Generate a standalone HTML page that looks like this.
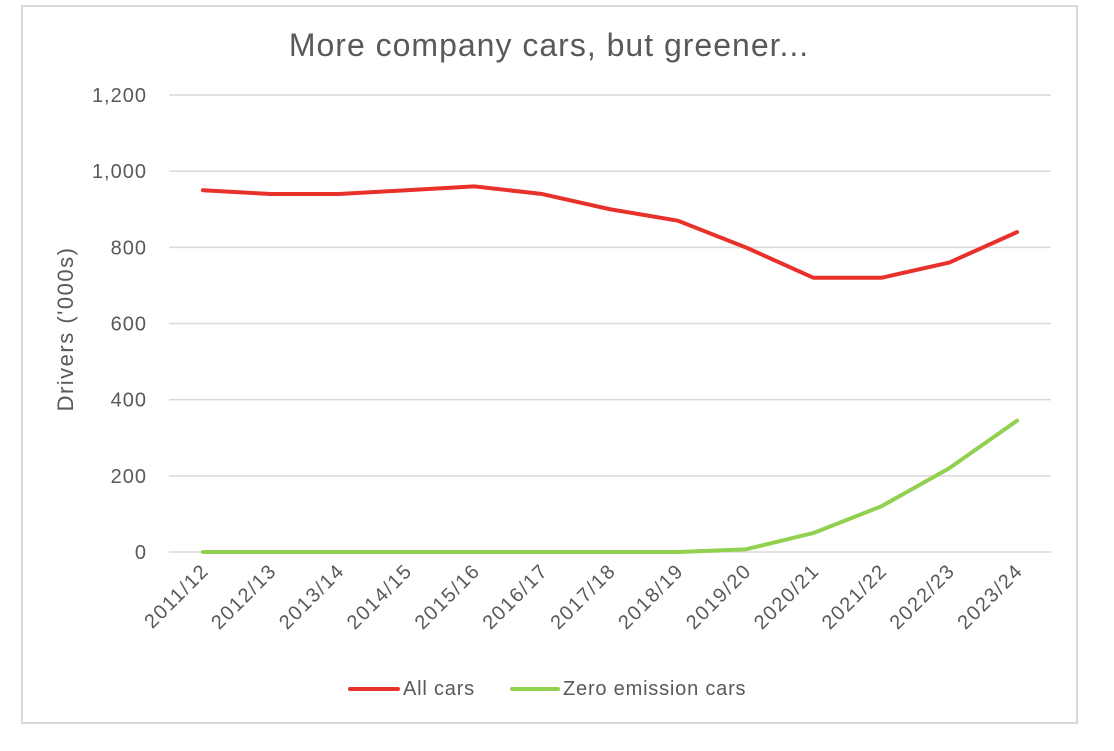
<!DOCTYPE html>
<html><head><meta charset="utf-8"><style>
body{margin:0;background:#fff;width:1114px;height:746px;overflow:hidden}
svg text{font-family:"Liberation Sans",sans-serif;fill:#595959}
</style></head><body>
<svg id="chart" width="1114" height="746">
<rect x="22" y="6" width="1055" height="717" fill="#fff" stroke="#d9d9d9" stroke-width="2"/>
<text x="549" y="56" text-anchor="middle" font-size="32" letter-spacing="1">More company cars, but greener...</text>
<text transform="translate(73,329) rotate(-90)" text-anchor="middle" font-size="22" letter-spacing="1.5">Drivers ('000s)</text>
<g id="grid"></g><g id="xlabels"></g><g id="series"></g>
<g>
<line x1="350" y1="689" x2="398" y2="689" stroke="#e8312a" stroke-width="4" stroke-linecap="round"/>
<text x="403" y="695" font-size="20" letter-spacing="0.8">All cars</text>
<line x1="512" y1="689" x2="558" y2="689" stroke="#92d050" stroke-width="4" stroke-linecap="round"/>
<text x="563" y="695" font-size="20" letter-spacing="0.8">Zero emission cars</text>
</g>
</svg>
<script>
const categories=["2011/12","2012/13","2013/14","2014/15","2015/16","2016/17","2017/18","2018/19","2019/20","2020/21","2021/22","2022/23","2023/24"];
const allCars=[950,940,940,950,960,940,900,870,800,720,720,760,840];
const zeroEmission=[0,0,0,0,0,0,0,0,7,50,120,220,345];
const yTicks=[0,200,400,600,800,1000,1200];
const yTickLabels=["0","200","400","600","800","1,000","1,200"];
const NS="http://www.w3.org/2000/svg";
const L=169,R=1051,T=95,B=552,YMAX=1200;
const step=(R-L)/categories.length;
const x=i=>L+step*(i+0.5);
const y=v=>B-(v/YMAX)*(B-T);
function mk(t,a,p){const e=document.createElementNS(NS,t);for(const k in a)e.setAttribute(k,a[k]);p.appendChild(e);return e;}
const grid=document.getElementById('grid');
yTicks.forEach((v,i)=>{
 const l=mk('line',{x1:L,x2:R,y1:y(v),y2:y(v),stroke:'#d9d9d9','stroke-width':1.5},grid);
 
 
 const t=mk('text',{x:147,y:y(v)+7,'text-anchor':'end','font-size':20,'letter-spacing':1},grid);
 t.textContent=yTickLabels[i];
 
 
});
const xl=document.getElementById('xlabels');
categories.forEach((c,i)=>{
 const t=mk('text',{transform:`translate(${x(i)+7},${B+20}) rotate(-45)`,'text-anchor':'end','font-size':20,'letter-spacing':1.5},xl);
 t.textContent=c;
 
 
});
const s=document.getElementById('series');
[[allCars,'#e8312a','all-cars-line'],[zeroEmission,'#92d050','zero-emission-line']].forEach(([d,col,n])=>{
 const p=mk('polyline',{points:d.map((v,i)=>x(i)+','+y(v)).join(' '),fill:'none',stroke:col,'stroke-width':4,'stroke-linejoin':'round','stroke-linecap':'round'},s);
 
 
});
</script>
</body></html>
